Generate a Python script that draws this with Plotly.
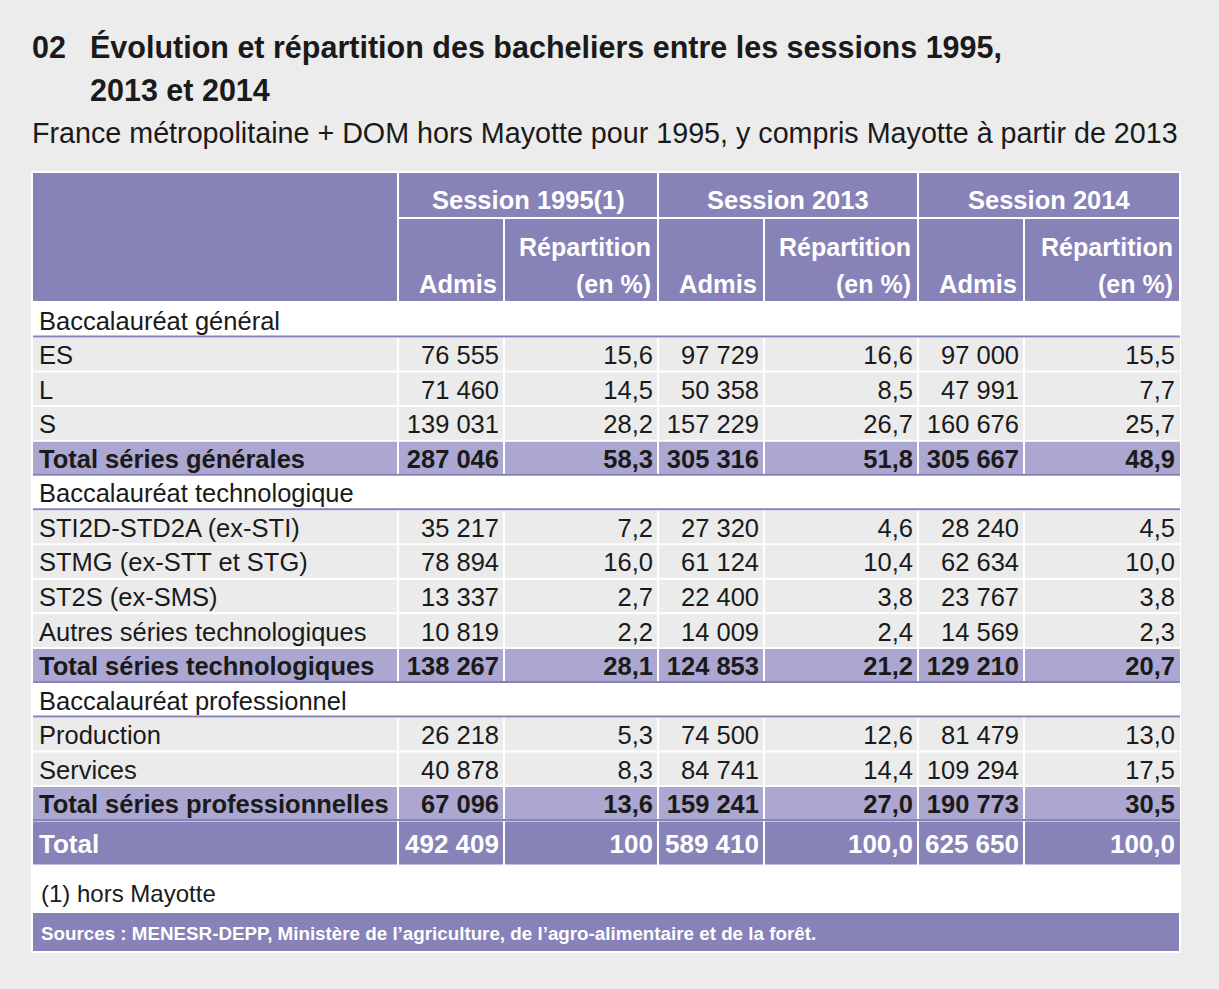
import plotly.graph_objects as go

# ---- data ----
row_labels = [
    "Baccalauréat général", "ES", "L", "S", "Total séries générales",
    "Baccalauréat technologique", "STI2D-STD2A (ex-STI)", "STMG (ex-STT et STG)",
    "ST2S (ex-SMS)", "Autres séries technologiques", "Total séries technologiques",
    "Baccalauréat professionnel", "Production", "Services",
    "Total séries professionnelles", "Total",
]
row_kinds = ["section", "data", "data", "data", "sub",
             "section", "data", "data", "data", "data", "sub",
             "section", "data", "data", "sub", "total"]

admis_1995 = [None, 76555, 71460, 139031, 287046, None, 35217, 78894, 13337, 10819, 138267,
              None, 26218, 40878, 67096, 492409]
pct_1995 = [None, 15.6, 14.5, 28.2, 58.3, None, 7.2, 16.0, 2.7, 2.2, 28.1,
            None, 5.3, 8.3, 13.6, 100]
admis_2013 = [None, 97729, 50358, 157229, 305316, None, 27320, 61124, 22400, 14009, 124853,
              None, 74500, 84741, 159241, 589410]
pct_2013 = [None, 16.6, 8.5, 26.7, 51.8, None, 4.6, 10.4, 3.8, 2.4, 21.2,
            None, 12.6, 14.4, 27.0, 100.0]
admis_2014 = [None, 97000, 47991, 160676, 305667, None, 28240, 62634, 23767, 14569, 129210,
              None, 81479, 109294, 190773, 625650]
pct_2014 = [None, 15.5, 7.7, 25.7, 48.9, None, 4.5, 10.0, 3.8, 2.3, 20.7,
            None, 13.0, 17.5, 30.5, 100.0]

sessions = ["Session 1995(1)", "Session 2013", "Session 2014"]
sub_headers = ["Admis", "Répartition", "(en %)"]

title = "Évolution et répartition des bacheliers entre les sessions 1995,"
title2 = "2013 et 2014"
subtitle = "France métropolitaine + DOM hors Mayotte pour 1995, y compris Mayotte à partir de 2013"
footnote = "(1) hors Mayotte"
source = "Sources : MENESR-DEPP, Ministère de l’agriculture, de l’agro-alimentaire et de la forêt."

# ---- style ----
FONT = "Liberation Sans Narrow, Arial Narrow, Liberation Sans, Arial, sans-serif"
PURPLE = "#8782b8"
LIGHT = "#aca7d0"
GRAY = "#ebebeb"
BG = "#ececec"
INK = "#1a1a1a"

edges = [33, 398, 504, 658, 764, 918, 1024, 1180]
body_top = 302.5
pitch = 34.54
total_h = 45
dy = 3.5  # small downward nudge for text baseline


def fmt_int(v):
    return f"{v:,}".replace(",", " ")


def fmt_pct(v):
    if isinstance(v, int):
        return str(v)
    return f"{v:.1f}".replace(".", ",")


tops, bots = [], []
y = body_top
for k in row_kinds:
    h = total_h if k == "total" else pitch
    tops.append(y)
    bots.append(y + h)
    y += h

shapes = []


def rect(x0, y0, x1, y1, color):
    shapes.append(dict(type="rect", xref="x", yref="y", x0=x0, y0=y0, x1=x1, y1=y1,
                       fillcolor=color, line=dict(width=0), layer="below"))


# white table base
rect(31, 171, 1181, 953, "white")
# header
rect(edges[0], 173, edges[1] - 1, 301, PURPLE)
for s in range(3):
    rect(edges[1 + 2 * s] + 1, 173, edges[3 + 2 * s] - 1, 217, PURPLE)
for j in range(1, 7):
    rect(edges[j] + 1, 219, edges[j + 1] - 1, 301, PURPLE)

fills = {"data": GRAY, "sub": LIGHT, "total": PURPLE}
for i, k in enumerate(row_kinds):
    if k == "section":
        continue
    for j in range(7):
        x0 = edges[j] + (0 if j == 0 else 1)
        x1 = edges[j + 1] - (0 if j == 6 else 1)
        rect(x0, tops[i] + 1, x1, bots[i] - 1, fills[k])
for i, k in enumerate(row_kinds):
    if k in ("section", "sub"):
        rect(edges[0], bots[i] - 1.5, edges[-1], bots[i] + 0.5, PURPLE)

# sources bar
rect(edges[0], 913, edges[-1] - 1, 951, PURPLE)

fig = go.Figure()

cols = [admis_1995, pct_1995, admis_2013, pct_2013, admis_2014, pct_2014]
for kind in ["section", "data", "sub", "total"]:
    idx = [i for i, k in enumerate(row_kinds) if k == kind]
    color = "white" if kind == "total" else INK
    size = 26 if kind == "total" else 25.5
    bold = kind in ("sub", "total")
    wrap = (lambda t: "<b>" + t + "</b>") if bold else (lambda t: t)
    ys = [(tops[i] + bots[i]) / 2 + dy for i in idx]
    fig.add_trace(go.Scatter(
        x=[39] * len(idx), y=ys, mode="text", text=[wrap(row_labels[i]) for i in idx],
        textposition="middle right", textfont=dict(family=FONT, size=size, color=color),
        hoverinfo="skip", showlegend=False))
    if kind == "section":
        continue
    for j, col in enumerate(cols):
        f = fmt_int if j % 2 == 0 else fmt_pct
        fig.add_trace(go.Scatter(
            x=[edges[j + 2] - 5] * len(idx), y=ys, mode="text",
            text=[wrap(f(col[i])) for i in idx],
            textposition="middle left", textfont=dict(family=FONT, size=size, color=color),
            hoverinfo="skip", showlegend=False))

annotations = []


def note(x, y, text, size, color=INK, anchor="left", bold=False):
    annotations.append(dict(xref="x", yref="y", x=x, y=y, text=("<b>%s</b>" % text) if bold else text,
                            showarrow=False, xanchor=anchor, yanchor="middle", align=anchor,
                            font=dict(family=FONT, size=size, color=color)))


for s, name in enumerate(sessions):
    note((edges[1 + 2 * s] + edges[3 + 2 * s]) / 2, 196 + dy, name, 25.5, "white", "center", True)
for j in range(6):
    x = edges[j + 2] - 5
    if j % 2 == 0:
        note(x, 280 + dy, sub_headers[0], 25.5, "white", "right", True)
    else:
        note(x, 243 + dy, sub_headers[1], 25, "white", "right", True)
        note(x, 280 + dy, sub_headers[2], 25, "white", "right", True)

note(30, 47, "<b>02</b>", 30.5)
note(88, 47, title, 30.5, INK, "left", True)
note(88, 90, title2, 30.5, INK, "left", True)
note(30, 133, subtitle, 28.7)
note(39, 890 + dy, footnote, 24)
note(39, 932 + 1, source, 18.8, "white", "left", True)

fig.update_layout(
    width=1219, height=989, margin=dict(l=0, r=0, t=0, b=0),
    paper_bgcolor=BG, plot_bgcolor=BG,
    xaxis=dict(range=[0, 1219], visible=False, fixedrange=True),
    yaxis=dict(range=[989, 0], visible=False, fixedrange=True),
    shapes=shapes, annotations=annotations, hovermode=False,
)

fig.write_html("out.html", config={"displayModeBar": False},
               post_script="document.body.style.margin='0';")
